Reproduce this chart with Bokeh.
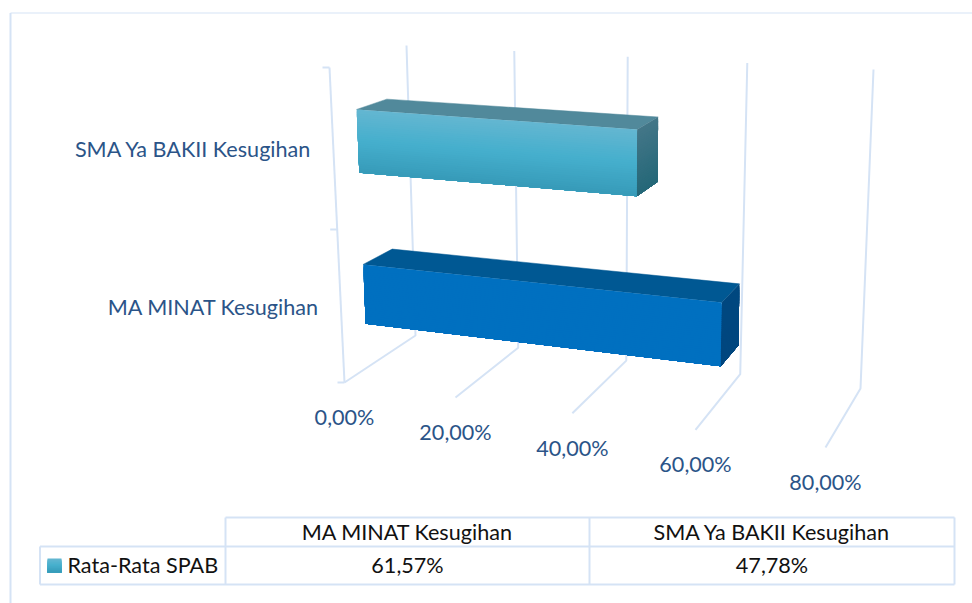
from bokeh.plotting import figure
from bokeh.models import Range1d
from bokeh.core.properties import value
from bokeh.embed import file_html
from bokeh.resources import INLINE
import numpy as np

# ---- data ----
categories = ["MA MINAT Kesugihan", "SMA Ya BAKII Kesugihan"]
series_name = "Rata-Rata SPAB"
series_values = [61.57, 47.78]
value_labels = ["61,57%", "47,78%"]
axis_ticks = [0, 20, 40, 60, 80]
tick_labels = ["0,00%", "20,00%", "40,00%", "60,00%", "80,00%"]

# ---- styling ----
GRID = "#D5E3F5"
AXIS_TXT = "#2B5488"
FONT = value("Lato")
FS = "21.6px"
bar_front = [["#0070C0", "#0070C0"], ["#63B6D1", "#45AFCD", "#379BB9"]]
bar_top = ["#005893", "#51899B"]
bar_side = [["#00477F", "#00477F"], ["#437688", "#256878"]]

# ---- 3-D box of the chart: corners on screen, (depth, height) ----
AX_MAX = axis_ticks[-1]
C0 = {"bb": (415, 335), "bt": (406, 45), "fb": (344, 382), "ft": (329, 67)}
C1 = {"bb": (860, 388), "bt": (873, 69), "fb": (825, 447), "ft": (837, 100)}
DEPTH_BACK, DEPTH_FRONT = 0.278, 0.675
BAR_H = [(0.142, 0.335), (0.634, 0.84)]
CAT_H = [0.235, 0.737]


def persp(v):
    u = v / AX_MAX
    return 0.9 * u / (1 - 0.1 * u)


def proj(v, d, h):
    t = persp(v)
    out = []
    for i in (0, 1):
        c = []
        for C in (C0, C1):
            back = C["bb"][i] + h * (C["bt"][i] - C["bb"][i])
            front = C["fb"][i] + h * (C["ft"][i] - C["fb"][i])
            c.append(back + d * (front - back))
        out.append(c[0] + t * (c[1] - c[0]))
    return out


def mix(stops, f):
    rgb = [np.array([int(s[i:i + 2], 16) for i in (1, 3, 5)], float) for s in stops]
    pos = f * (len(rgb) - 1)
    k = min(int(pos), len(rgb) - 2)
    c = rgb[k] + (pos - k) * (rgb[k + 1] - rgb[k])
    return "#%02x%02x%02x" % tuple(int(round(x)) for x in c)


p = figure(width=972, height=603, x_range=Range1d(0, 972), y_range=Range1d(603, 0),
           output_backend="svg", toolbar_location=None, min_border=0,
           outline_line_color=None, background_fill_color="white")
p.xaxis.visible = False
p.yaxis.visible = False
p.grid.visible = False

# frame of the chart area
p.line([10, 10], [603, 12.5], line_color=GRID, line_width=2)
p.line([10, 972], [12.5, 12.5], line_color=GRID, line_width=1.2)

# walls and floor grid
xs, ys = [], []
for v in axis_ticks:
    a, b, c = proj(v, 0, 1), proj(v, 0, 0), proj(v, 1, 0)
    xs.append([a[0], b[0], c[0]])
    ys.append([a[1], b[1], c[1]])
a, b = proj(0, 1, 1), proj(0, 1, 0)
xs.append([a[0], b[0]])
ys.append([a[1], b[1]])
for h in (0, 0.486, 1):
    a = proj(0, 1, h)
    xs.append([a[0] - 7, a[0]])
    ys.append([a[1], a[1]])
p.multi_line(xs, ys, line_color=GRID, line_width=2)

# bars
STRIPS = 30
for i, val in enumerate(series_values):
    h0, h1 = BAR_H[i]
    q = [proj(0, DEPTH_FRONT, h1), proj(val, DEPTH_FRONT, h1), proj(val, DEPTH_BACK, h1), proj(0, DEPTH_BACK, h1)]
    p.patch([c[0] for c in q], [c[1] for c in q], fill_color=bar_top[i], line_color=bar_top[i], line_width=0.5)
    for k in range(STRIPS):
        f = k / (STRIPS - 1)
        h = h1 + (h0 - h1) * k / STRIPS
        q = [proj(val, DEPTH_FRONT, h), proj(val, DEPTH_BACK, h), proj(val, DEPTH_BACK, h0), proj(val, DEPTH_FRONT, h0)]
        p.patch([c[0] for c in q], [c[1] for c in q], fill_color=mix(bar_side[i], f), line_color=None)
        q = [proj(0, DEPTH_FRONT, h), proj(val, DEPTH_FRONT, h), proj(val, DEPTH_FRONT, h0), proj(0, DEPTH_FRONT, h0)]
        p.patch([c[0] for c in q], [c[1] for c in q], fill_color=mix(bar_front[i], f), line_color=None)

# value axis labels
fronts = [proj(v, 1, 0) for v in axis_ticks]
p.text([c[0] for c in fronts], [c[1] + 34.5 for c in fronts], text=tick_labels, text_font=FONT,
       text_font_size=FS, text_color=AXIS_TXT, text_align="center", text_baseline="middle")

# category labels
anch = [proj(0, 1, h) for h in CAT_H]
p.text([c[0] - 21.5 for c in anch], [c[1] - 1 for c in anch], text=categories, text_font=FONT,
       text_font_size=FS, text_color=AXIS_TXT, text_align="right", text_baseline="middle")

# data table
T_L, T_K, T_M, T_R = 39.5, 225, 589, 954
T_T, T_S, T_B = 517, 546, 584
p.multi_line(
    [[T_K, T_R], [T_L, T_R], [T_L, T_R], [T_L, T_L], [T_K, T_K], [T_M, T_M], [T_R, T_R]],
    [[T_T, T_T], [T_S, T_S], [T_B, T_B], [T_S, T_B], [T_T, T_B], [T_T, T_B], [T_T, T_B]],
    line_color=GRID, line_width=2)
cx = [(T_K + T_M) / 2, (T_M + T_R) / 2]
p.text(cx, [(T_T + T_S) / 2 - 0.5] * 2, text=categories, text_font=FONT, text_font_size=FS,
       text_color="#111111", text_align="center", text_baseline="middle")
p.text(cx, [(T_S + T_B) / 2 - 1] * 2, text=value_labels, text_font=FONT, text_font_size=FS,
       text_color="#111111", text_align="center", text_baseline="middle")
p.text([67], [(T_S + T_B) / 2 - 1], text=[series_name], text_font=FONT, text_font_size=FS,
       text_color="#111111", text_align="left", text_baseline="middle")
# legend key
for k in range(14):
    p.quad(left=47, right=61, top=558 + k, bottom=572, fill_color=mix(bar_front[1], k / 13), line_color=None)

open("out.html", "w").write(file_html(p, INLINE))
